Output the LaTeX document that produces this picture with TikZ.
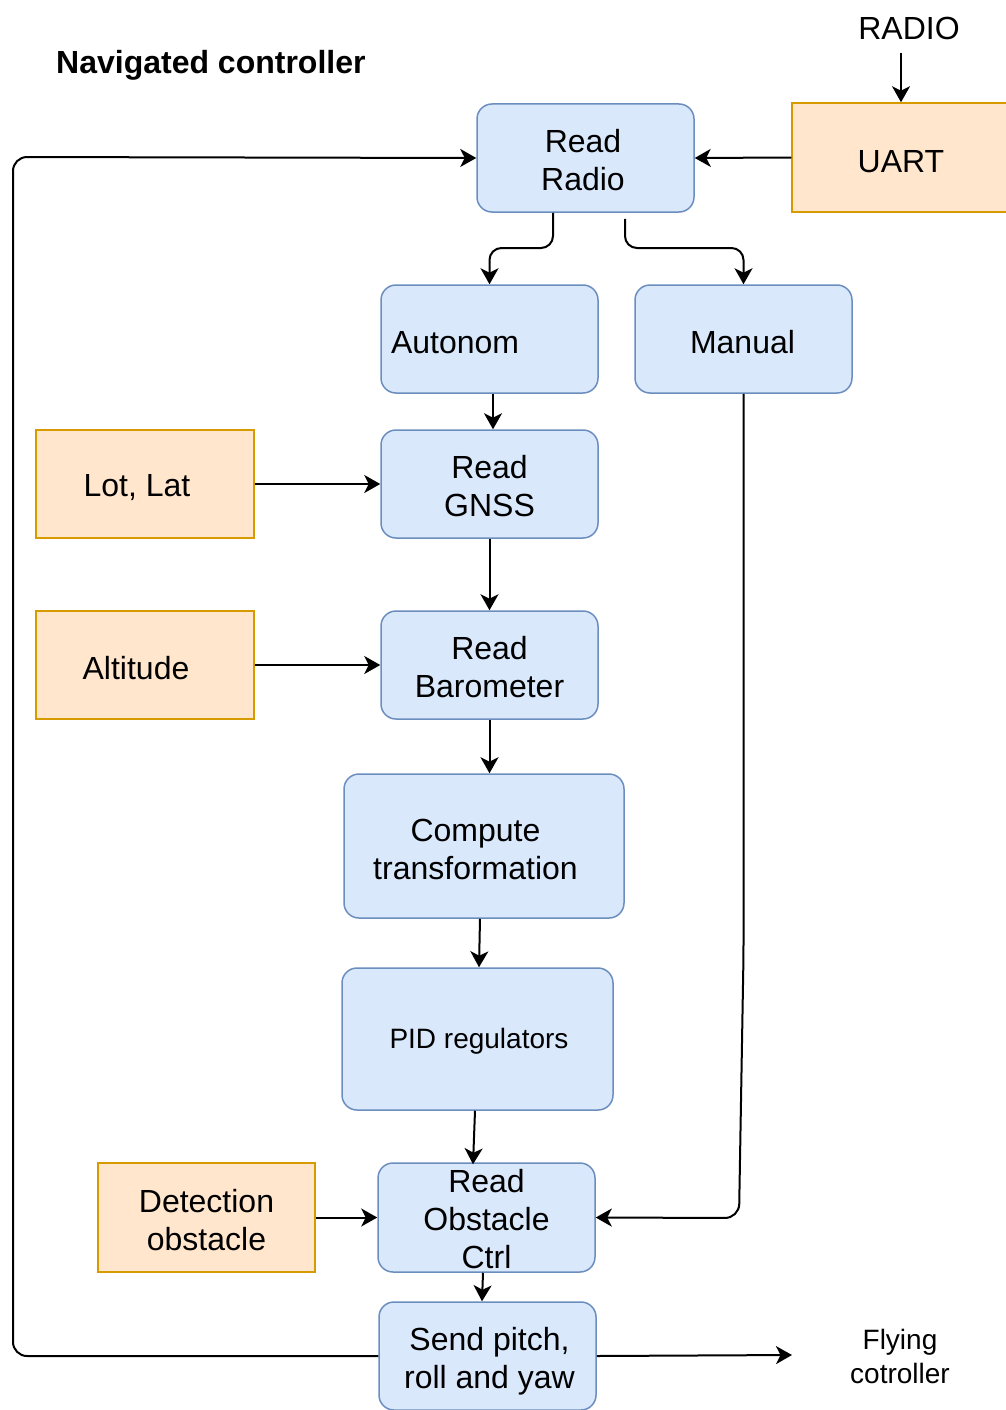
\documentclass[tikz,border=0pt]{standalone}
\usepackage{fontspec}
\setmainfont{Liberation Sans}
\usetikzlibrary{arrows.meta}
\definecolor{bfill}{HTML}{DAE8FC}
\definecolor{bline}{HTML}{6C8EBF}
\definecolor{ofill}{HTML}{FFE6CC}
\definecolor{oline}{HTML}{D79B00}
\newcommand{\topstrut}[1]{\rule{0pt}{#1}}
\begin{document}
\begin{tikzpicture}[x=1pt,y=-1pt,
  bluebox/.style={draw=bline,fill=bfill,line width=1.5pt,rounded corners=15pt,
    minimum width=217pt,minimum height=108pt,inner sep=0pt,align=center,
    font=\fontsize{32}{38}\selectfont,execute at begin node={\rule{0pt}{0.92em}}},
  orangebox/.style={draw=oline,fill=ofill,line width=1.5pt,
    minimum width=218pt,minimum height=108pt,inner sep=0pt,align=center,
    font=\fontsize{32}{38}\selectfont,execute at begin node={\rule{0pt}{0.92em}}},
  plaintext/.style={inner sep=0pt,align=center,font=\fontsize{32}{38}\selectfont,
    execute at begin node={\rule{0pt}{0.92em}}},
  conn/.style={draw=black,line width=2pt,-{Stealth[length=16pt,width=18pt,inset=4.5pt]}},
]
\useasboundingbox (0,0) rectangle (1005,1410);
% title and free texts
\node[plaintext,anchor=west,font=\bfseries\fontsize{32}{38}\selectfont] (title) at (56,62) {Navigated controller};
\node[plaintext] (radio) at (909,25) {RADIO};
\node[plaintext,font=\fontsize{28}{34}\selectfont] (fly) at (900,1356) {Flying\\cotroller};
% nodes
\node[bluebox] (rr) at (585.5,158) {\topstrut{27pt}Read\hspace*{5pt}\\Radio\hspace*{5pt}};
\node[orangebox,minimum height=109pt] (uart) at (901,157.5) {UART};
\node[bluebox,text width=197pt,align=left,inner xsep=10pt] (auto) at (489.5,339) {Autonom};
\node[bluebox] (man) at (743.5,339) {Manual\hspace*{2pt}};
\node[bluebox] (gnss) at (489.5,484) {\topstrut{27pt}Read\\GNSS};
\node[orangebox] (lot) at (145,484) {Lot, Lat\hspace*{16pt}};
\node[orangebox] (alt) at (145,665) {Altitude\hspace*{18pt}};
\node[bluebox] (baro) at (489.5,665) {\topstrut{27pt}Read\\Barometer};
\node[bluebox,minimum width=280pt,minimum height=144pt] (comp) at (484,846) {\topstrut{29pt}Compute\hspace*{17pt}\\transformation\hspace*{17pt}};
\node[bluebox,minimum width=271pt,minimum height=142pt,font=\fontsize{28}{34}\selectfont] (pid) at (477.5,1039) {\hspace*{3pt}PID regulators};
\node[orangebox,minimum width=217pt,minimum height=109pt] (det) at (206.5,1217.5) {\topstrut{29pt}Detection\\obstacle};
\node[bluebox,minimum height=109pt] (obs) at (486.5,1217.5) {\topstrut{27pt}Read\\Obstacle\\Ctrl};
\node[bluebox] (send) at (487.5,1356) {\topstrut{33pt}\hspace*{4pt}Send pitch,\\\hspace*{4pt}roll and yaw};
\coordinate (flyin) at (792,1355);
% connectors
\draw[conn] (radio.south -| uart.north) ++(0,13) -- (uart.north);
\draw[conn] (uart.west) -- (rr.east);
\draw[conn,rounded corners=12pt] ([xshift=-32.5pt]rr.south) -- (553,248) -- (489.5,248) -- (auto.north);
\draw[conn,rounded corners=12pt] ([xshift=39.5pt,yshift=-6pt]rr.south) -- (625,248) -- (743.5,248) -- (man.north);
\draw[conn] ([xshift=3.5pt]auto.south) -- ([xshift=3.5pt]gnss.north);
\draw[conn] (lot.east) -- (gnss.west);
\draw[conn] (gnss.south) -- (baro.north);
\draw[conn] (alt.east) -- (baro.west);
\draw[conn] (baro.south) -- (baro.south |- comp.north);
\draw[conn] ([xshift=-4pt]comp.south) -- ([xshift=1.5pt]pid.north);
\draw[conn] ([xshift=-2.5pt]pid.south) -- ([xshift=-13.5pt,yshift=-2pt]obs.north);
\draw[conn] (det.east) -- (obs.west);
\draw[conn,rounded corners=14pt] (man.south) -- (743.5,955) -- (739,1218) -- (obs.east);
\draw[conn] ([xshift=-3.5pt]obs.south) -- ([xshift=-5.5pt]send.north);
\draw[conn] (send.east) -- (flyin);
\draw[conn,rounded corners=14pt] (send.west) -- (13,1356) -- (13,157) -- (rr.west);
\end{tikzpicture}
\end{document}
